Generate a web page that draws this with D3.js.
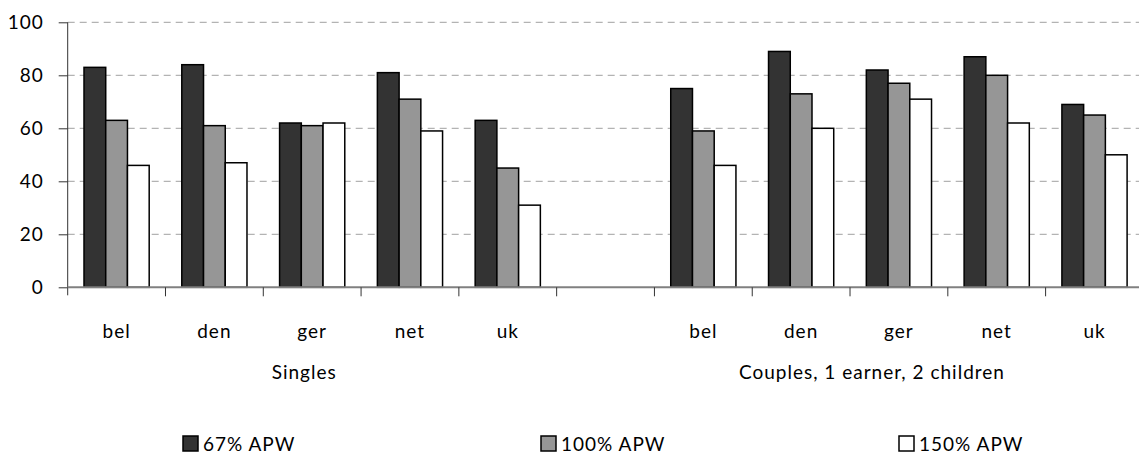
<!DOCTYPE html>
<html lang="en">
  <head>
    <meta charset="utf-8">
    <title>APW chart</title>
    <script src="https://d3js.org/d3.v7.min.js"></script>
    <style>
      body { margin: 0; background: #fff; }
      text { font-family: Lato, "Open Sans", sans-serif; fill: #000; }
    </style>
  </head>
  <body>
    <script>
const countries = ['bel', 'den', 'ger', 'net', 'uk']
const groups = ['Singles', 'Couples, 1 earner, 2 children']
const seriesNames = ['67% APW', '100% APW', '150% APW']
const seriesColors = ['#333333', '#969696', '#ffffff']
const yTicks = [0, 20, 40, 60, 80, 100]

// values per series, singles then couples
const apw67 = [[83, 84, 62, 81, 63], [75, 89, 82, 87, 69]]
const apw100 = [[63, 61, 61, 71, 45], [59, 73, 77, 80, 65]]
const apw150 = [[46, 47, 62, 59, 31], [46, 60, 71, 62, 50]]
const allSeries = [apw67, apw100, apw150]

const dims = { width: 1139, height: 454, left: 67.7, right: 1143.4, top: 22.3, bottom: 287.3 }

// one slot per category, with an empty slot between the two groups
const slots = []
groups.forEach((g, gi) => {
  if (gi > 0) slots.push('gap')
  countries.forEach(c => slots.push(gi + '-' + c))
})

const rows = []
groups.forEach((g, gi) => {
  countries.forEach((c, ci) => {
    rows.push({ key: gi + '-' + c, country: c, values: allSeries.map(s => s[gi][ci]) })
  })
})

const svg = d3.select('body').append('svg')
  .attr('width', dims.width)
  .attr('height', dims.height)

const x = d3.scaleBand().domain(slots).range([dims.left, dims.right]).padding(0)
const xInner = d3.scaleBand().domain(d3.range(3)).range([0, x.bandwidth()]).paddingInner(0).paddingOuter(0.75)
const y = d3.scaleLinear().domain([0, 100]).range([dims.bottom, dims.top])

// gridlines
svg.append('g')
  .selectAll('line')
  .data(yTicks.filter(d => d > 0))
  .join('line')
  .attr('x1', dims.left)
  .attr('x2', dims.width)
  .attr('y1', d => y(d))
  .attr('y2', d => y(d))
  .attr('stroke', '#a0a0a0')
  .attr('stroke-width', 1)
  .attr('stroke-dasharray', '7,5')

// y axis
const yAxis = d3.axisLeft(y).tickValues(yTicks).tickSize(9).tickPadding(15)
const yAxisGroup = svg.append('g')
  .attr('transform', `translate(${dims.left},0)`)
  .call(yAxis)
yAxisGroup.select('.domain').attr('stroke', '#333').attr('d', `M0,${dims.top}V${dims.bottom + 8}`)
yAxisGroup.selectAll('.tick line').attr('stroke', '#333')
yAxisGroup.selectAll('.tick text')
  .attr('font-size', 19)
  .attr('letter-spacing', '1px')
  .style('font-family', 'Lato, sans-serif')

// bars
const groupsSel = svg.append('g')
  .selectAll('g')
  .data(rows)
  .join('g')
  .attr('transform', d => `translate(${x(d.key)},0)`)

groupsSel.selectAll('rect')
  .data(d => d.values)
  .join('rect')
  .attr('x', (d, i) => xInner(i))
  .attr('width', xInner.bandwidth())
  .attr('y', d => y(d))
  .attr('height', d => y(0) - y(d))
  .attr('fill', (d, i) => seriesColors[i])
  .attr('stroke', '#000')
  .attr('stroke-width', 1.5)

// x axis line and ticks at slot boundaries
const xAxisGroup = svg.append('g')
xAxisGroup.append('line')
  .attr('x1', dims.left)
  .attr('x2', dims.width)
  .attr('y1', y(0))
  .attr('y2', y(0))
  .attr('stroke', '#808080')
  .attr('stroke-width', 2)

xAxisGroup.selectAll('line.tick')
  .data(slots.slice(1))
  .join('line')
  .classed('tick', true)
  .attr('x1', d => x(d))
  .attr('x2', d => x(d))
  .attr('y1', y(0))
  .attr('y2', y(0) + 9)
  .attr('stroke', '#333')

// category labels
svg.append('g')
  .selectAll('text')
  .data(rows)
  .join('text')
  .attr('x', d => x(d.key) + x.bandwidth() / 2)
  .attr('y', 338)
  .attr('text-anchor', 'middle')
  .attr('font-size', 19)
  .attr('letter-spacing', '1px')
  .text(d => d.country)

// group labels
const groupShift = [-8, -27]
svg.append('g')
  .selectAll('text')
  .data(groups)
  .join('text')
  .attr('x', (g, gi) => (x(gi + '-' + countries[0]) + x(gi + '-' + countries[countries.length - 1]) + x.bandwidth()) / 2 + groupShift[gi])
  .attr('y', 379)
  .attr('text-anchor', 'middle')
  .attr('font-size', 19)
  .attr('letter-spacing', '1px')
  .text(d => d)

// legend
const legend = svg.append('g')
  .selectAll('g')
  .data(seriesNames)
  .join('g')
  .attr('transform', (d, i) => `translate(${183 + i * 358},436)`)

legend.append('rect')
  .attr('width', 15)
  .attr('height', 15)
  .attr('fill', (d, i) => seriesColors[i])
  .attr('stroke', '#000')
  .attr('stroke-width', 1.5)

legend.append('text')
  .attr('x', 20)
  .attr('y', 15)
  .attr('font-size', 19)
  .attr('letter-spacing', '1px')
  .text(d => d)
    </script>
  </body>
</html>
